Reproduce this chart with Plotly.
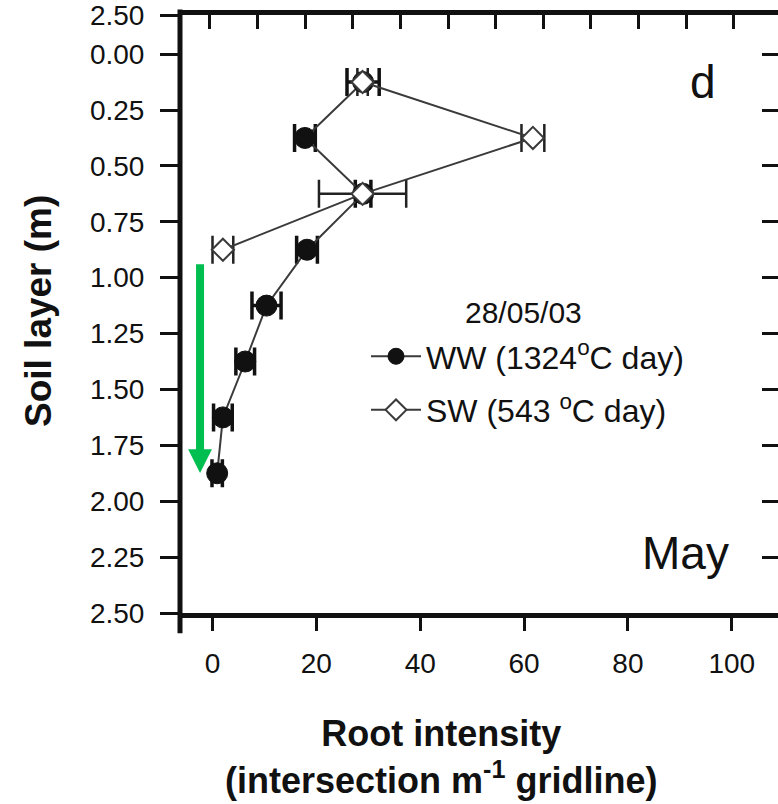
import plotly.graph_objects as go

# ---------------- data ----------------
ww_depth = [0.125, 0.375, 0.625, 0.875, 1.125, 1.375, 1.625, 1.875]
ww_root = [29.0, 17.8, 29.0, 18.2, 10.4, 6.3, 2.0, 0.9]
ww_err = [3.1, 2.0, 1.5, 2.0, 2.8, 1.8, 1.8, 1.0]

sw_depth = [0.125, 0.375, 0.625, 0.875]
sw_root = [28.9, 61.7, 28.9, 2.0]
sw_err = [1.0, 2.2, 8.4, 2.0]

y_tickvals = [-0.175, 0.0, 0.25, 0.5, 0.75, 1.0, 1.25, 1.5, 1.75, 2.0, 2.25, 2.5]
y_ticktext = ["2.50", "0.00", "0.25", "0.50", "0.75", "1.00", "1.25", "1.50",
              "1.75", "2.00", "2.25", "2.50"]
x_tickvals = [0, 20, 40, 60, 80, 100]
x_ticktext = ["0", "20", "40", "60", "80", "100"]

ww_name = "WW (1324<sup>o</sup>C day)"
sw_name = "SW (543 <sup>o</sup>C day)"
legend_title = "28/05/03"

arrow_x = -2.4
arrow_y = [0.94, 1.874]

FONT = "Liberation Sans, Arial, sans-serif"
x_range = [-6.26, 108.9]
y_range = [2.5, -0.175]


def px_x(p):
    return (p - 180) / 598


def px_y(p):
    return (613 - p) / 600


fig = go.Figure()

fig.add_trace(go.Scatter(
    x=ww_root, y=ww_depth, name=ww_name, mode="lines+markers",
    legendgroup="ww",
    line=dict(color="#3a3a3a", width=2),
    marker=dict(symbol="circle", size=21, color="#111111",
                line=dict(color="#111111", width=1)),
    error_x=dict(type="data", array=ww_err, color="#111111", thickness=3.5, width=14),
))
fig.add_trace(go.Scatter(
    x=sw_root, y=sw_depth, name=sw_name, mode="lines+markers",
    legendgroup="sw",
    line=dict(color="#3a3a3a", width=2),
    marker=dict(symbol="diamond", size=17, color="white",
                line=dict(color="#3a3a3a", width=2)),
    error_x=dict(type="data", array=sw_err, color="#222222", thickness=2.5, width=14),
))

# green arrow (decoration)
fig.add_shape(type="line", xref="x", yref="y",
              x0=arrow_x, x1=arrow_x, y0=arrow_y[0], y1=arrow_y[1] - 0.1,
              line=dict(color="rgb(0,190,80)", width=8))
fig.add_shape(type="path", xref="x", yref="y",
              path=f"M {arrow_x-2.3},{arrow_y[1]-0.107} L {arrow_x+2.3},{arrow_y[1]-0.107} L {arrow_x},{arrow_y[1]} Z",
              fillcolor="rgb(0,190,80)", line=dict(color="rgb(0,190,80)", width=0))

# left spine extending beyond the plot area
fig.add_shape(type="line", xref="paper", yref="paper", x0=0, x1=0, y0=-0.034, y1=1.009,
              line=dict(color="#111111", width=5))

fig.update_layout(
    width=778, height=804,
    margin=dict(l=180, r=0, t=13, b=191),
    paper_bgcolor="white", plot_bgcolor="white",
    font=dict(family=FONT, color="#111111"),
    showlegend=True,
    legend=dict(
        x=px_x(366), y=px_y(328), xanchor="left", yanchor="top",
        bgcolor="rgba(0,0,0,0)", borderwidth=0,
        font=dict(size=32, family=FONT, color="#111111"),
        traceorder="grouped", tracegroupgap=9,
        itemwidth=50,
    ),
    xaxis=dict(
        range=x_range, tickvals=x_tickvals, ticktext=x_ticktext,
        ticks="outside", ticklen=13, tickwidth=3, tickcolor="#111111",
        showline=True, linecolor="#111111", linewidth=5,
        showgrid=False, zeroline=False,
        tickfont=dict(size=28, family=FONT, color="#111111"),
        ticklabelstandoff=8,
    ),
    xaxis2=dict(
        overlaying="x", side="top", range=x_range,
        tick0=-0.5, dtick=9.17, ticks="inside", ticklen=14, tickwidth=3,
        tickcolor="#111111", showticklabels=False,
        showline=True, linecolor="#111111", linewidth=5,
        showgrid=False, zeroline=False,
    ),
    yaxis=dict(
        range=y_range, tickvals=y_tickvals, ticktext=y_ticktext,
        ticks="outside", ticklen=19, tickwidth=3, tickcolor="#111111",
        showline=False, showgrid=False, zeroline=False,
        tickfont=dict(size=28, family=FONT, color="#111111"),
        ticklabelstandoff=10, ticklabeloverflow="allow",
    ),
    yaxis2=dict(
        overlaying="y", side="right", range=y_range,
        tickvals=y_tickvals[1:-1], ticks="inside", ticklen=16, tickwidth=3,
        tickcolor="#111111", showticklabels=False, showline=False,
        showgrid=False, zeroline=False,
    ),
    annotations=[
        dict(text=legend_title, xref="paper", yref="paper", x=px_x(523), y=px_y(311),
             showarrow=False, font=dict(size=30, family=FONT, color="#111111"),
             xanchor="center", yanchor="middle"),
        dict(text="d", xref="paper", yref="paper", x=px_x(703), y=px_y(80),
             showarrow=False, font=dict(size=46, family=FONT, color="#111111"),
             xanchor="center", yanchor="middle"),
        dict(text="May", xref="paper", yref="paper", x=px_x(685), y=px_y(553),
             showarrow=False, font=dict(size=46, family=FONT, color="#111111"),
             xanchor="center", yanchor="middle"),
        dict(text="<b>Root intensity</b><br><b>(intersection m<sup>-1</sup> gridline)</b>",
             xref="paper", yref="paper", x=px_x(441), y=px_y(757),
             showarrow=False, font=dict(size=36, family=FONT, color="#111111"),
             xanchor="center", yanchor="middle", align="center"),
        dict(text="<b>Soil layer (m)</b>", textangle=-90,
             xref="paper", yref="paper", x=px_x(38), y=px_y(310),
             showarrow=False, font=dict(size=37, family=FONT, color="#111111"),
             xanchor="center", yanchor="middle"),
    ],
)

# dummy trace to activate the overlaid axes
fig.add_trace(go.Scatter(x=[None], y=[None], xaxis="x2", yaxis="y2", showlegend=False,
                         hoverinfo="skip"))

fig.write_html("out.html")
